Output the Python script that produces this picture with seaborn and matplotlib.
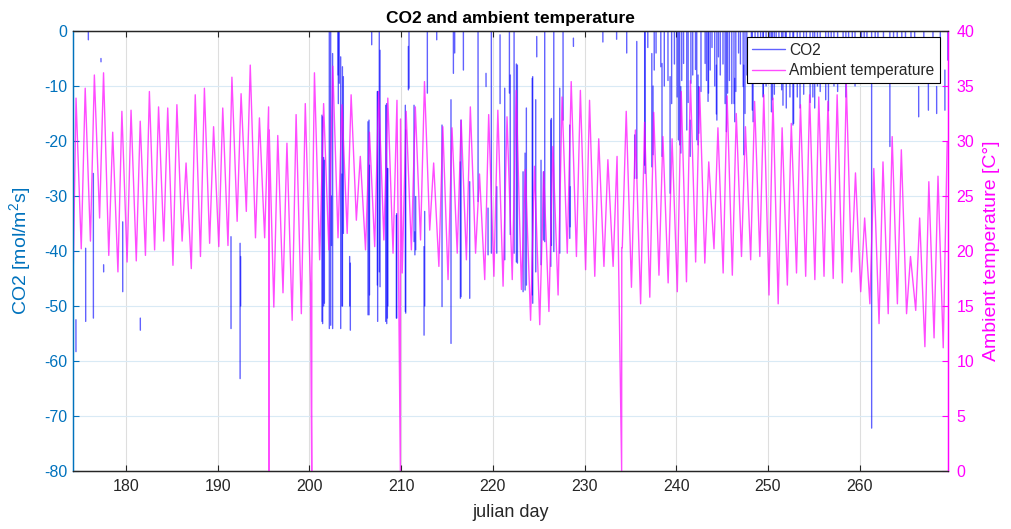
import numpy as np
import pandas as pd
import matplotlib
matplotlib.use("Agg")
import matplotlib.pyplot as plt
from matplotlib.lines import Line2D
import seaborn as sns

# ---------------- data ----------------
# daily ambient temperature minimum / maximum  (julian days 174 .. 269)
temp_days = list(range(174, 270))
temp_min = [16.9, 20.2, 20.9, 23.0, 19.6, 18.1, 19.0, 19.1, 19.6, 20.1,
            20.9, 18.7, 20.9, 18.4, 19.5, 20.7, 20.4, 20.5, 22.7, 23.6,
            21.2, 21.2, 14.9, 16.2, 13.7, 14.3, 16.8, 19.2, 20.1, 21.2,
            21.6, 22.8, 20.1, 20.4, 21.0, 19.8, 18.0, 20.1, 21.0, 21.9,
            18.6, 17.4, 19.8, 19.2, 19.8, 17.4, 17.7, 16.8, 17.4, 16.5,
            13.7, 13.3, 14.5, 16.0, 19.8, 19.5, 18.3, 17.7, 18.6, 18.6,
            20.3, 16.7, 15.2, 15.8, 17.8, 17.1, 16.3, 17.2, 19.0, 18.9,
            20.2, 18.0, 17.8, 19.5, 19.2, 19.5, 16.0, 15.2, 16.9, 18.0,
            17.7, 17.4, 17.7, 17.5, 17.1, 18.1, 16.3, 15.2, 13.4, 14.3,
            15.2, 14.3, 14.6, 11.3, 12.1, 11.2]
temp_max = [33.9, 34.8, 36.0, 36.2, 30.8, 32.7, 32.8, 31.8, 34.5, 33.1,
            33.0, 33.3, 28.0, 34.2, 34.8, 31.3, 33.0, 35.8, 34.3, 36.9,
            32.1, 33.1, 30.5, 29.8, 32.4, 33.4, 36.2, 33.4, 36.8, 33.3,
            34.2, 28.6, 30.8, 34.5, 33.9, 33.7, 32.7, 33.1, 35.4, 28.0,
            31.3, 31.2, 31.9, 33.1, 27.0, 32.4, 32.8, 32.2, 34.6, 27.4,
            27.7, 27.2, 29.5, 34.0, 35.4, 34.6, 33.7, 30.2, 28.3, 28.6,
            32.7, 31.0, 31.7, 32.6, 30.4, 30.2, 34.5, 35.5, 34.9, 28.1,
            31.2, 34.1, 32.5, 31.3, 33.6, 34.2, 33.9, 31.2, 31.6, 33.3,
            34.2, 34.0, 33.6, 34.2, 35.2, 27.1, 23.0, 27.5, 28.1, 30.4,
            29.2, 19.5, 23.0, 26.3, 26.8, 29.9]
# sensor drop-outs (temperature falls to 0)
drop_day = [195.60, 200.25, 209.92, 234.05]
drop_after = [31.0, 18.5, 32.0, 20.3]

# CO2 flux: visible spikes (day, upper end, lower end); 5 = beyond the top edge
# early period (sparse data)
co2_day_a = [174.54, 175.60, 175.89, 176.44, 177.27, 177.56, 179.64, 181.56, 191.45, 192.44, 192.50]
co2_top_a = [-52.5, -39.5, 5, -25.9, -5.0, -42.5, -34.7, -52.2, -37.4, -38.6, -41.0]
co2_bot_a = [-58.3, -52.8, -1.6, -52.2, -5.6, -43.8, -47.4, -54.4, -54.1, -63.2, -50.0]
# mid period (days 201 - 229)
co2_day_b = [201.44, 201.63, 202.17, 202.53, 203.15, 203.41, 203.70, 204.46, 206.50, 206.79,
             207.44, 207.70, 208.43, 208.55, 209.52, 210.50, 210.79, 211.59, 212.50, 212.57,
             212.86, 213.88, 214.46, 215.44, 215.70, 215.84, 216.46, 216.53, 216.79, 217.48,
             218.39, 219.26, 219.48, 219.84, 220.43, 220.79, 221.30, 221.81, 221.90, 222.32,
             222.57, 222.68, 223.30, 223.52, 223.66, 224.30, 224.35, 224.68, 224.79, 225.26,
             225.52, 225.66, 226.32, 226.39, 226.65, 227.30, 227.66, 228.39, 228.43, 228.79,
             201.37, 201.55, 202.32, 202.40, 203.12, 203.25, 203.55, 203.60, 204.39, 206.39,
             206.55, 207.41, 207.62, 208.32, 208.50, 209.48, 210.46, 210.86, 211.41, 211.50]
co2_top_b = [-15.6, -23.5, 5, -4.1, 5, -4.7, -8.3, -42.2, -16.2, 5,
             -11.0, -3.5, -13.2, -25.0, -33.2, -18.0, -2.8, -30.1, -39.2, -32.8,
             5, 5, -17.1, -12.5, 5, 5, -23.8, -16.2, 5, -27.4,
             5, -7.7, -32.2, 5, -28.3, -0.7, -10.4, 5, -8.0, 5,
             -6.0, -6.2, -25.6, -22.2, -14.0, -8.6, -8.3, -12.5, -1.0, -23.5,
             -25.6, 5, -16.2, -15.9, 5, -10.4, 5, -17.1, -28.3, -1.3,
             -15.3, -23.0, 5, -30.0, 5, 5, -26.0, -6.5, -41.0, -16.5,
             -24.4, -11.0, 5, -13.5, -25.0, -33.5, -13.5, 5, -13.5, -36.5]
co2_bot_b = [-53.2, -49.5, -54.1, -54.1, -13.2, -54.1, -36.8, -54.4, -51.6, -2.5,
             -52.8, -46.5, -53.2, -50.0, -52.2, -51.3, -10.7, -39.8, -55.3, -50.0,
             -11.3, -1.6, -50.1, -56.8, -7.7, -4.0, -48.6, -48.3, -7.1, -48.6,
             -31.0, -10.1, -40.7, -40.4, -40.4, -13.2, -41.6, -11.3, -37.0, -40.4,
             -42.0, -42.2, -47.4, -47.1, -46.2, -48.0, -49.5, -43.8, -4.7, -42.5,
             -38.0, -38.3, -42.8, -39.0, -40.1, -40.4, -16.2, -37.7, -35.6, -2.8,
             -52.8, -50.0, -53.5, -39.0, -8.0, -9.5, -50.0, -50.0, -50.0, -51.6,
             -48.0, -46.2, -43.8, -52.8, -52.2, -52.2, -51.0, -10.4, -38.3, -40.7]
# late period (days 232 - 270)
co2_day_c = [235.47, 235.70, 236.56, 236.61, 237.34, 237.47, 237.60, 238.32, 238.45, 239.33,
             239.50, 240.24, 240.38, 240.50, 240.80, 241.15, 241.52, 241.80, 242.24, 242.38,
             242.45, 243.15, 243.47, 243.52, 243.70, 244.38, 244.43, 244.60, 245.33, 245.47,
             245.60, 246.06, 246.30, 246.38, 246.80, 247.30, 247.36, 247.50, 248.20, 248.30,
             248.38, 248.90, 249.47, 249.50, 250.38, 250.50, 250.90, 251.50, 251.64, 252.00,
             252.73, 252.80, 253.20, 253.90, 254.60, 255.10, 255.40, 256.30, 256.90, 257.60,
             258.20, 258.80, 259.50, 260.20, 260.80, 261.31, 262.00, 262.60, 263.30, 264.10,
             265.00, 265.60, 266.44, 267.50, 268.40, 269.30, 269.62, 232.00, 233.50, 234.60,
             236.90, 237.80, 238.70, 239.10, 239.80, 240.10, 240.60, 241.30, 241.60, 242.10,
             242.70, 243.30, 243.90, 244.20, 244.80, 245.10, 245.80, 246.50, 247.00, 247.70,
             248.60, 249.20, 249.80, 250.20, 250.70, 251.20, 251.90, 252.40, 253.50, 254.20,
             254.90, 255.70, 256.60, 257.20, 258.50, 259.20, 260.50, 261.70, 263.70, 264.60,
             266.00, 267.00, 268.00, 268.80]
co2_top_c = [-18.9, -1.9, 5, 5, -4.1, -10.0, 5, 5, -5.9, -8.3,
             5, 5, 5, -10.1, 5, 5, -16.2, 5, 5, -8.0,
             -10.1, 5, 5, 5, 5, -6.2, 5, 5, 5, 5,
             5, 5, 5, -8.6, 5, 5, -6.2, 5, 5, 5,
             -6.9, 5, 5, 5, 5, 5, 5, 5, 5, 5,
             5, 5, 5, 5, 5, 5, 5, 5, 5, 5,
             5, 5, 5, 5, 5, 5, 5, 5, 5, 5,
             5, 5, -10.1, -9.5, -10.1, -7.1, 5, 5, 5, 5,
             5, 5, 5, 5, 5, 5, 5, 5, 5, 5,
             5, 5, 5, 5, 5, 5, 5, 5, 5, 5,
             5, 5, 5, 5, 5, 5, 5, 5, 5, 5,
             5, 5, 5, 5, 5, 5, 5, 5, 5, 5,
             5, 5, 5, 5]
co2_bot_c = [-26.8, -26.8, -24.4, -25.9, -24.7, -22.5, -7.1, -6.5, -22.8, -29.5,
             -13.2, -19.8, -20.7, -22.2, -5.9, -18.0, -22.8, -8.0, -19.8, -20.7,
             -18.6, -5.9, -12.8, -11.3, -7.1, -15.1, -16.2, -4.7, -13.2, -18.3,
             -11.3, -13.2, -13.2, -16.5, -4.0, -10.1, -22.5, -15.0, -6.5, -14.4,
             -16.5, -3.0, -12.0, -11.9, -14.7, -12.5, -3.5, -10.7, -13.5, -14.0,
             -17.1, -16.8, -12.0, -11.5, -13.0, -14.0, -10.0, -12.5, -8.0, -11.0,
             -9.5, -6.0, -10.0, -5.0, -8.0, -72.2, -4.0, -3.0, -21.0, -2.5,
             -3.5, -2.0, -15.6, -14.4, -15.0, -14.4, -5.3, -2.0, -1.5, -4.0,
             -3.0, -4.0, -10.0, -9.0, -6.0, -12.0, -9.0, -13.0, -9.5, -7.0,
             -11.0, -9.0, -3.0, -10.0, -8.0, -6.0, -9.0, -11.0, -6.0, -8.0,
             -9.0, -7.0, -10.0, -8.0, -11.5, -9.0, -7.0, -12.0, -14.0, -9.0,
             -12.0, -11.0, -14.5, -10.0, -12.0, -8.5, -9.0, -6.0, -3.0, -2.0,
             -4.0, -3.5, -4.5, -3.0]

x_ticks = [180, 190, 200, 210, 220, 230, 240, 250, 260]
left_ticks = [-80, -70, -60, -50, -40, -30, -20, -10, 0]
right_ticks = [0, 5, 10, 15, 20, 25, 30, 35, 40]

assert len(temp_min) == len(temp_max) == len(temp_days)
assert len(co2_day_a) == len(co2_top_a) == len(co2_bot_a)
assert len(co2_day_b) == len(co2_top_b) == len(co2_bot_b)
assert len(co2_day_c) == len(co2_top_c) == len(co2_bot_c)

co2_day = co2_day_a + co2_day_b + co2_day_c
co2_top = co2_top_a + co2_top_b + co2_top_c
co2_bot = co2_bot_a + co2_bot_b + co2_bot_c

# ---------------- build long tables ----------------
t_day, t_val = [], []
for d, lo, hi in zip(temp_days, temp_min, temp_max):
    t_day.append(174.22 if d == 174 else d + 0.12)
    t_val.append(lo)
    t_day.append(d + 0.55)
    t_val.append(hi)
for d, a in zip(drop_day, drop_after):
    t_day += [d, d + 0.015]
    t_val += [0.0, a]
temp_df = pd.DataFrame({"day": t_day, "temp": t_val}).sort_values("day")

rows = []
for i, (d, top, bot) in enumerate(zip(co2_day, co2_top, co2_bot)):
    rows.append((i, d, top))
    rows.append((i, d + 0.004, bot))
co2_df = pd.DataFrame(rows, columns=["spike", "day", "co2"])

# ---------------- style ----------------
sns.set_theme(style="white")
plt.rcParams["font.family"] = ["Liberation Sans", "DejaVu Sans"]
plt.rcParams["mathtext.fontset"] = "custom"
plt.rcParams["mathtext.rm"] = "Liberation Sans"
plt.rcParams["mathtext.it"] = "Liberation Sans:italic"

LEFT = "#0072BD"
MAG = "#FF00FF"
DARK = "#262626"
CO2C = "#0000FF"

fig = plt.figure(figsize=(10.11, 5.29), dpi=100)
ax = fig.add_axes([73 / 1011, 1 - 471 / 529, 875 / 1011, 440 / 529])
ax2 = ax.twinx()

sns.lineplot(data=co2_df, x="day", y="co2", units="spike", estimator=None,
             sort=False, ax=ax, color=CO2C, lw=1.0, alpha=0.62, legend=False)
sns.lineplot(data=temp_df, x="day", y="temp", estimator=None, sort=False,
             ax=ax2, color=MAG, lw=1.0, alpha=0.7, legend=False)

ax.set_xlim(174.22, 269.64)
ax.set_ylim(-80, 0)
ax2.set_ylim(0, 40)
ax.set_xticks(x_ticks)
ax.set_yticks(left_ticks)
ax2.set_yticks(right_ticks)
ax.set_xticklabels([str(v) for v in x_ticks])
ax.set_yticklabels([str(v) for v in left_ticks])
ax2.set_yticklabels([str(v) for v in right_ticks])

ax.grid(True, axis="x", color="#dedede", lw=0.8)
ax.grid(True, axis="y", color="#d9eaf5", lw=0.8)
ax.set_axisbelow(True)

ax.tick_params(axis="x", colors=DARK, labelcolor=DARK, direction="in",
               top=True, bottom=True, length=4, width=0.8, labelsize=11.5, pad=6)
ax.tick_params(axis="y", colors=LEFT, labelcolor=LEFT, direction="in",
               left=True, right=False, length=4, width=0.8, labelsize=11.5, pad=4)
ax2.tick_params(axis="y", colors=MAG, labelcolor=MAG, direction="in",
                right=True, left=False, length=4, width=0.8, labelsize=11.5, pad=6)

for a in (ax, ax2):
    a.spines["top"].set_color(DARK)
    a.spines["bottom"].set_color(DARK)
    a.spines["left"].set_color(LEFT)
    a.spines["right"].set_color(MAG)
    for s in a.spines.values():
        s.set_linewidth(0.9)

ax.set_xlabel("julian day", fontsize=13, color=DARK)
ax.set_ylabel(r"CO2 [mol/m$^{2}$s]", fontsize=14, color=LEFT)
ax2.set_ylabel("Ambient temperature [C°]", fontsize=14, color=MAG)
ax.xaxis.set_label_coords(0.5, -0.075)
ax.yaxis.set_label_coords(-0.046, 0.5)
ax2.yaxis.set_label_coords(1.040, 0.5)
ax.set_title("CO2 and ambient temperature", fontsize=12.5, fontweight="bold",
             color="black", pad=6)

handles = [Line2D([], [], color=CO2C, lw=1.0, alpha=0.62),
           Line2D([], [], color=MAG, lw=1.0, alpha=0.7)]
leg = ax2.legend(handles, ["CO2", "Ambient temperature"], loc="upper right",
                 bbox_to_anchor=(0.991, 0.986), borderaxespad=0, fontsize=11.2,
                 frameon=True, fancybox=False, framealpha=1, edgecolor="black",
                 borderpad=0.35, handlelength=2.1, handletextpad=0.3,
                 labelspacing=0.35)
leg.get_frame().set_linewidth(0.8)
leg.set_zorder(10)

fig.savefig("out.png", dpi=100, facecolor="white")
